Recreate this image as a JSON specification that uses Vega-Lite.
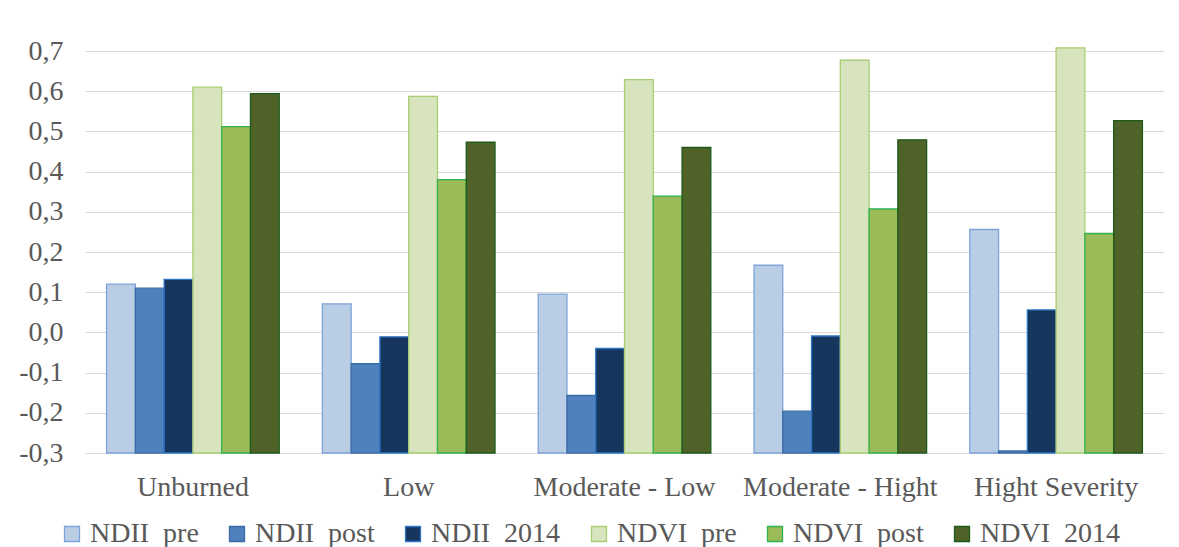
{
  "$schema": "https://vega.github.io/schema/vega-lite/v6.json",
  "width": 1079,
  "height": 402,
  "autosize": {"type": "none"},
  "padding": {"left": 85, "top": 51, "right": 15, "bottom": 94},
  "background": "white",
  "config": {
    "view": {"stroke": null},
    "locale": {"number": {"decimal": ",", "thousands": ".", "grouping": [3], "currency": ["", ""], "minus": "-"}},
    "font": "Liberation Serif"
  },
  "data": {
    "values": [
      {"cls": "Unburned", "series": "NDII\u00a0\u00a0pre", "value": 0.12},
      {"cls": "Unburned", "series": "NDII\u00a0\u00a0post", "value": 0.11},
      {"cls": "Unburned", "series": "NDII\u00a0\u00a02014", "value": 0.132},
      {"cls": "Unburned", "series": "NDVI\u00a0\u00a0pre", "value": 0.61},
      {"cls": "Unburned", "series": "NDVI\u00a0\u00a0post", "value": 0.512},
      {"cls": "Unburned", "series": "NDVI\u00a0\u00a02014", "value": 0.594},
      {"cls": "Low", "series": "NDII\u00a0\u00a0pre", "value": 0.071},
      {"cls": "Low", "series": "NDII\u00a0\u00a0post", "value": -0.078},
      {"cls": "Low", "series": "NDII\u00a0\u00a02014", "value": -0.011},
      {"cls": "Low", "series": "NDVI\u00a0\u00a0pre", "value": 0.587},
      {"cls": "Low", "series": "NDVI\u00a0\u00a0post", "value": 0.38},
      {"cls": "Low", "series": "NDVI\u00a0\u00a02014", "value": 0.473},
      {"cls": "Moderate - Low", "series": "NDII\u00a0\u00a0pre", "value": 0.095},
      {"cls": "Moderate - Low", "series": "NDII\u00a0\u00a0post", "value": -0.157},
      {"cls": "Moderate - Low", "series": "NDII\u00a0\u00a02014", "value": -0.04},
      {"cls": "Moderate - Low", "series": "NDVI\u00a0\u00a0pre", "value": 0.629},
      {"cls": "Moderate - Low", "series": "NDVI\u00a0\u00a0post", "value": 0.339},
      {"cls": "Moderate - Low", "series": "NDVI\u00a0\u00a02014", "value": 0.46},
      {"cls": "Moderate - Hight", "series": "NDII\u00a0\u00a0pre", "value": 0.167},
      {"cls": "Moderate - Hight", "series": "NDII\u00a0\u00a0post", "value": -0.196},
      {"cls": "Moderate - Hight", "series": "NDII\u00a0\u00a02014", "value": -0.009},
      {"cls": "Moderate - Hight", "series": "NDVI\u00a0\u00a0pre", "value": 0.677},
      {"cls": "Moderate - Hight", "series": "NDVI\u00a0\u00a0post", "value": 0.307},
      {"cls": "Moderate - Hight", "series": "NDVI\u00a0\u00a02014", "value": 0.479},
      {"cls": "Hight Severity", "series": "NDII\u00a0\u00a0pre", "value": 0.256},
      {"cls": "Hight Severity", "series": "NDII\u00a0\u00a0post", "value": -0.295},
      {"cls": "Hight Severity", "series": "NDII\u00a0\u00a02014", "value": 0.056},
      {"cls": "Hight Severity", "series": "NDVI\u00a0\u00a0pre", "value": 0.708},
      {"cls": "Hight Severity", "series": "NDVI\u00a0\u00a0post", "value": 0.246},
      {"cls": "Hight Severity", "series": "NDVI\u00a0\u00a02014", "value": 0.527}
    ]
  },
  "mark": {"type": "bar", "strokeWidth": 1.3},
  "encoding": {
    "x": {
      "field": "cls",
      "type": "nominal",
      "sort": ["Unburned", "Low", "Moderate - Low", "Moderate - Hight", "Hight Severity"],
      "scale": {"paddingInner": 0.2, "paddingOuter": 0.1},
      "axis": {
        "title": null,
        "labelAngle": 0,
        "labelFont": "Liberation Serif",
        "labelFontSize": 28,
        "labelColor": "#595959",
        "labelPadding": 20,
        "labelLimit": 400,
        "ticks": false,
        "domainColor": "#d9d9d9",
        "domainWidth": 1,
        "grid": false
      }
    },
    "xOffset": {
      "field": "series",
      "type": "nominal",
      "sort": ["NDII\u00a0\u00a0pre", "NDII\u00a0\u00a0post", "NDII\u00a0\u00a02014", "NDVI\u00a0\u00a0pre", "NDVI\u00a0\u00a0post", "NDVI\u00a0\u00a02014"],
      "scale": {"paddingInner": 0, "paddingOuter": 0}
    },
    "y": {
      "field": "value",
      "type": "quantitative",
      "scale": {"domain": [-0.3, 0.7], "nice": false, "zero": false},
      "axis": {
        "title": null,
        "values": [-0.3, -0.2, -0.1, 0, 0.1, 0.2, 0.3, 0.4, 0.5, 0.6, 0.7],
        "format": ".1f",
        "labelFont": "Liberation Serif",
        "labelFontSize": 28,
        "labelColor": "#595959",
        "labelPadding": 22,
        "ticks": false,
        "domain": false,
        "gridColor": "#d9d9d9",
        "gridWidth": 1
      }
    },
    "y2": {"datum": -0.3},
    "fill": {
      "field": "series",
      "type": "nominal",
      "sort": ["NDII\u00a0\u00a0pre", "NDII\u00a0\u00a0post", "NDII\u00a0\u00a02014", "NDVI\u00a0\u00a0pre", "NDVI\u00a0\u00a0post", "NDVI\u00a0\u00a02014"],
      "scale": {
        "domain": ["NDII\u00a0\u00a0pre", "NDII\u00a0\u00a0post", "NDII\u00a0\u00a02014", "NDVI\u00a0\u00a0pre", "NDVI\u00a0\u00a0post", "NDVI\u00a0\u00a02014"],
        "range": ["#B9CDE5", "#4F81BD", "#17365D", "#D7E4BD", "#9BBB59", "#4F6228"]
      },
      "legend": {
        "title": null,
        "orient": "none",
        "legendX": -27,
        "legendY": 469,
        "direction": "horizontal",
        "columns": 6,
        "columnPadding": 24,
        "symbolType": "square",
        "symbolSize": 225,
        "symbolStrokeWidth": 1.3,
        "labelFont": "Liberation Serif",
        "labelFontSize": 28,
        "labelColor": "#595959",
        "labelOffset": 4,
        "labelLimit": 300
      }
    },
    "stroke": {
      "field": "series",
      "type": "nominal",
      "sort": ["NDII\u00a0\u00a0pre", "NDII\u00a0\u00a0post", "NDII\u00a0\u00a02014", "NDVI\u00a0\u00a0pre", "NDVI\u00a0\u00a0post", "NDVI\u00a0\u00a02014"],
      "scale": {
        "domain": ["NDII\u00a0\u00a0pre", "NDII\u00a0\u00a0post", "NDII\u00a0\u00a02014", "NDVI\u00a0\u00a0pre", "NDVI\u00a0\u00a0post", "NDVI\u00a0\u00a02014"],
        "range": ["#7EA3D8", "#3C6CA8", "#2E75C8", "#A9CD72", "#2FB34E", "#1E5A1A"]
      },
      "legend": {
        "title": null,
        "orient": "none",
        "legendX": -27,
        "legendY": 469,
        "direction": "horizontal",
        "columns": 6,
        "columnPadding": 24,
        "symbolType": "square",
        "symbolSize": 225,
        "symbolStrokeWidth": 1.3,
        "labelFont": "Liberation Serif",
        "labelFontSize": 28,
        "labelColor": "#595959",
        "labelOffset": 4,
        "labelLimit": 300
      }
    }
  }
}
